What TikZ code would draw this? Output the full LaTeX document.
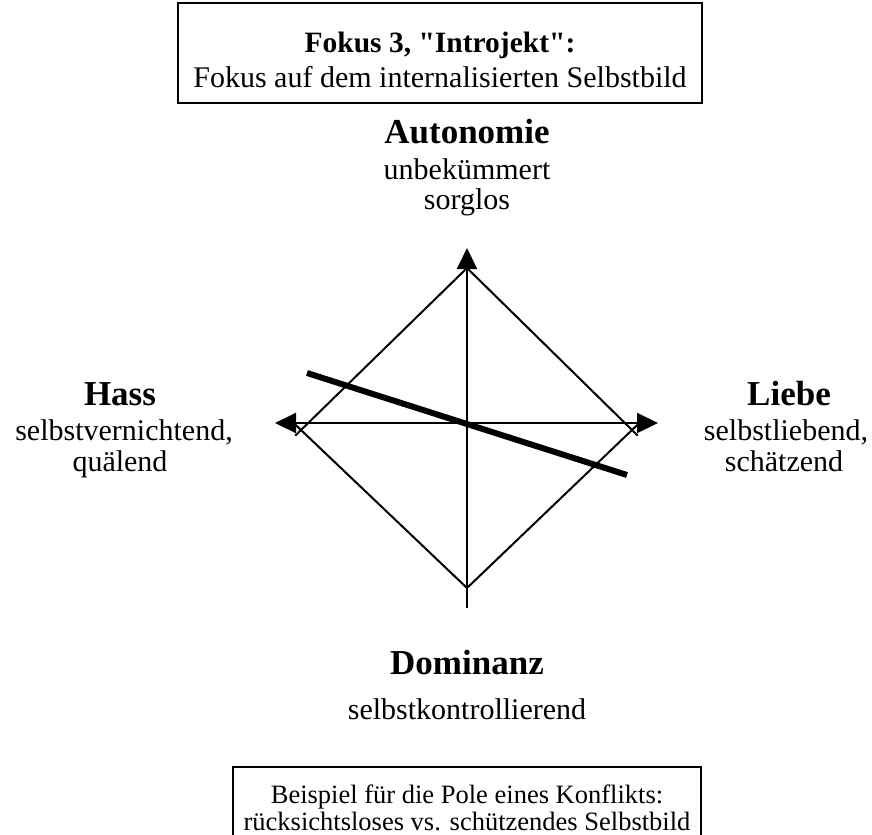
\documentclass[tikz,border=0pt]{standalone}
\usepackage{fontspec}
\setmainfont{Liberation Serif}[Ligatures=TeXOff]
\usetikzlibrary{arrows.meta,calc}
\begin{document}
\begin{tikzpicture}[x=0.4pt,y=-0.4pt,
  frame/.style={line width=0.8pt},
  axisline/.style={line width=0.8pt},
  tip/.style={-{Triangle[length=8.4pt,width=8pt]}},
  twotips/.style={{Triangle[length=8.4pt,width=8pt]}-{Triangle[length=8.4pt,width=8pt]}},
  conflict/.style={line width=2.4pt},
  pole/.style={font=\fontsize{14}{16}\selectfont\bfseries, anchor=base, inner sep=0pt},
  headline/.style={font=\fontsize{11.8}{14}\selectfont\bfseries, anchor=base, inner sep=0pt},
  desc/.style={font=\fontsize{12}{14}\selectfont, anchor=base, inner sep=0pt},
  small/.style={font=\fontsize{10.6}{13}\selectfont, anchor=base, inner sep=0pt}
]
\useasboundingbox (0,0) rectangle (872,834);
\clip (0,0) rectangle (872,834);

% heading box
\draw[frame] (178,3) rectangle (702,103);
\node[headline] (head1) at (440,52) {Fokus 3, "Introjekt":};
\node[desc] (head2) at (440,87) {Fokus auf dem internalisierten Selbstbild};

% pole labels
\node[pole] (aut) at (467,143) {Autonomie};
\node[desc] (aut1) at (467,179) {unbekümmert};
\node[desc] (aut2) at (467,209) {sorglos};

\node[pole] (hass) at (120,405) {Hass};
\node[desc] (hass1) at (124,440) {selbstvernichtend,};
\node[desc] (hass2) at (120,471) {quälend};

\node[pole] (liebe) at (789,405) {Liebe};
\node[desc] (liebe1) at (786,440) {selbstliebend,};
\node[desc] (liebe2) at (784,471) {schätzend};

\node[pole] (dom) at (467,674) {Dominanz};
\node[desc] (dom1) at (467,719) {selbstkontrollierend};

% axes
\coordinate (vTop) at (467,248);
\coordinate (vBot) at (467,608);
\coordinate (hL) at (275,423);
\coordinate (hR) at (658,423);
\draw[axisline,tip] (vBot) -- (vTop);
\draw[axisline,twotips] (hL) -- (hR);

% diamond, with the side corners slightly crossed
\coordinate (T) at (467,268);
\coordinate (B) at (467,588);
\coordinate (L) at (301,430);
\coordinate (R) at (632,430);
\draw[axisline,miter limit=20] ($(T)!1.035!(L)$) -- (T) -- ($(T)!1.035!(R)$);
\draw[axisline,miter limit=20] ($(B)!1.035!(L)$) -- (B) -- ($(B)!1.035!(R)$);

% conflict line
\coordinate (cA) at (307,373);
\coordinate (cB) at (627,475);
\draw[conflict] (cA) -- (cB);

% example box, running off the lower edge
\draw[frame] (233,840) |- (701,767) -- (701,840);
\node[small] (ex1) at (467,803) {Beispiel für die Pole eines Konflikts:};
\node[small] (ex2) at (467,830) {rücksichtsloses vs. schützendes Selbstbild};
\end{tikzpicture}
\end{document}
